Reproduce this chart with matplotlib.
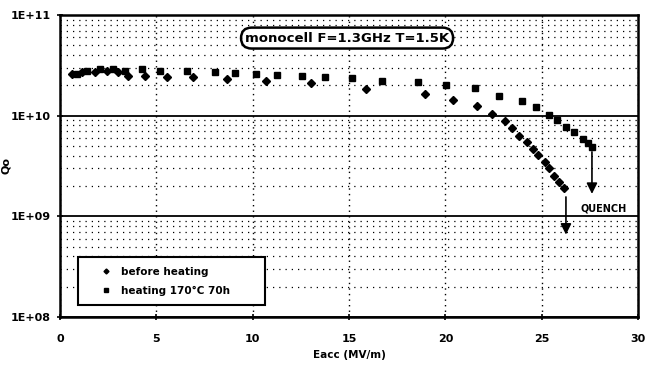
import matplotlib
matplotlib.use("Agg")
import matplotlib.pyplot as plt
from matplotlib.ticker import LogLocator, NullFormatter

plt.rcParams['font.family'] = ['DejaVu Sans']

# before heating (diamonds)
e_before = [0.62, 1.14, 1.82, 2.44, 3.01, 3.53, 4.41, 5.55, 6.90, 8.67, 10.69, 13.03,
            15.88, 18.94, 20.39, 21.64, 22.42, 23.09, 23.46, 23.82, 24.23, 24.55,
            24.81, 25.17, 25.38, 25.64, 25.90, 26.16]
q_before = [2.61, 2.74, 2.74, 2.80, 2.74, 2.50, 2.50, 2.44, 2.44, 2.33, 2.23, 2.13,
            1.85, 1.65, 1.44, 1.26, 1.05, 0.89, 0.76, 0.63, 0.55, 0.47,
            0.41, 0.35, 0.30, 0.254, 0.221, 0.193]
# heating 170°C 70h (squares)
e_after = [0.88, 1.40, 2.08, 2.75, 3.37, 4.26, 5.19, 6.59, 8.04, 9.08, 10.17, 11.26,
           12.56, 13.75, 15.15, 16.71, 18.58, 20.03, 21.54, 22.78, 23.98, 24.70,
           25.38, 25.79, 26.26, 26.67, 27.14, 27.40, 27.61]
q_after = [2.61, 2.80, 2.93, 2.93, 2.80, 2.93, 2.80, 2.80, 2.74, 2.67, 2.61, 2.55,
           2.50, 2.44, 2.38, 2.23, 2.17, 2.03, 1.90, 1.58, 1.41, 1.23,
           1.02, 0.91, 0.78, 0.69, 0.59, 0.54, 0.49]
q_before = [v * 1e10 for v in q_before]
q_after = [v * 1e10 for v in q_after]

x_ticks = [0, 5, 10, 15, 20, 25, 30]
y_ticks = [1e8, 1e9, 1e10, 1e11]
y_labels = ["1E+08", "1E+09", "1E+10", "1E+11"]

fig = plt.figure(figsize=(6.46, 3.68), dpi=100)
ax = fig.add_axes([60/646, 1-317/368, (638-60)/646, (317-15)/368])
ax.set_yscale('log')
ax.set_xlim(0, 30)
ax.set_ylim(1e8, 1e11)

# grids
ax.yaxis.set_minor_locator(LogLocator(base=10, subs=range(2, 10)))
ax.yaxis.set_minor_formatter(NullFormatter())
ax.grid(True, which='minor', axis='y', linestyle=(0, (1, 4)), color='black', linewidth=0.9)
ax.grid(True, which='major', axis='y', linestyle='-', color='black', linewidth=1.3)
ax.grid(True, which='major', axis='x', linestyle=(0, (1, 3)), color='black', linewidth=1.0)
ax.set_axisbelow(True)

ax.set_xticks(x_ticks)
ax.set_xticklabels([str(t) for t in x_ticks], fontweight='bold', fontsize=8)
ax.set_yticks(y_ticks)
ax.set_yticklabels(y_labels, fontweight='bold', fontsize=8)
ax.tick_params(axis='both', which='major', direction='inout', length=5, width=1.2)
ax.tick_params(axis='y', which='major', pad=4)
ax.tick_params(axis='x', which='major', pad=10)
ax.tick_params(axis='y', which='minor', length=0)
for s in ax.spines.values():
    s.set_linewidth(1.8)

ax.plot(e_before, q_before, linestyle='none', marker='D', markersize=3.6,
        color='black', label='before heating')
ax.plot(e_after, q_after, linestyle='none', marker='s', markersize=4.2,
        color='black', label='heating 170°C 70h')

# quench arrows from last points
ax.annotate('', xy=(e_after[-1], q_after[-1] * 0.32), xytext=(e_after[-1], q_after[-1] * 0.95),
            arrowprops=dict(arrowstyle='-|>', color='black', lw=1.2, mutation_scale=16))
ax.annotate('', xy=(e_before[-1] + 0.1, q_before[-1] * 0.32), xytext=(e_before[-1] + 0.1, q_before[-1] * 0.86),
            arrowprops=dict(arrowstyle='-|>', color='black', lw=1.2, mutation_scale=16))
ax.text(28.2, 1.19e9, 'QUENCH', fontsize=7, fontweight='bold', ha='center', va='center')

ax.text(14.9, 5.9e10, 'monocell F=1.3GHz T=1.5K', fontsize=9.5, fontweight='bold',
        ha='center', va='center',
        bbox=dict(boxstyle='round,pad=0.3,rounding_size=0.8', fc='white', ec='black', lw=1.8))

leg = ax.legend(loc='lower left', bbox_to_anchor=(0.031, 0.04, 0.324, 0.155), mode='expand',
                prop={'weight': 'bold', 'size': 7.5},
                frameon=True, fancybox=False, edgecolor='black', framealpha=1,
                handlelength=3.6, handletextpad=-0.4, borderpad=0.9, labelspacing=0.85,
                markerscale=0.7, borderaxespad=0, numpoints=1)
leg.get_frame().set_linewidth(1.5)

ax.set_xlabel('Eacc (MV/m)', fontsize=7.5, fontweight='bold', labelpad=4)
ax.set_ylabel('Qo', fontsize=8, fontweight='bold')
ax.yaxis.set_label_coords(-0.085, 0.5)

fig.savefig('out.png', dpi=100)
